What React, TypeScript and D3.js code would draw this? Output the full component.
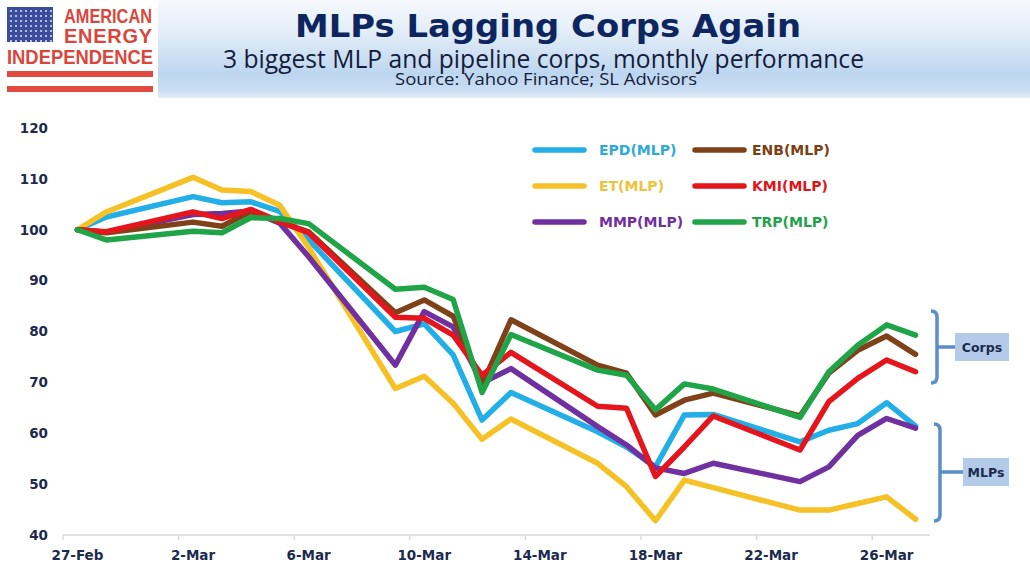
import * as d3 from 'd3';

// trading days, 27-Feb to 27-Mar 2020
const dates = [
  '2020-02-27', '2020-02-28', '2020-03-02', '2020-03-03', '2020-03-04', '2020-03-05',
  '2020-03-06', '2020-03-09', '2020-03-10', '2020-03-11', '2020-03-12', '2020-03-13',
  '2020-03-16', '2020-03-17', '2020-03-18', '2020-03-19', '2020-03-20', '2020-03-23',
  '2020-03-24', '2020-03-25', '2020-03-26', '2020-03-27',
];

const epd = [100, 102.5, 106.5, 105.3, 105.5, 103.6, 98, 80, 81.5, 75.4, 62.6, 68, 60.3, 57.3, 53.4, 63.6, 63.7, 58.3, 60.6, 61.9, 66, 61.4];
const et = [100, 103.5, 110.3, 107.8, 107.5, 104.8, 96.5, 68.8, 71.2, 65.9, 58.8, 62.8, 54.1, 49.5, 42.8, 50.8, 49.3, 44.9, 44.9, 46.2, 47.5, 43.1];
const mmp = [100, 99.5, 103, 103.2, 103.7, 101.3, 94.7, 73.4, 83.9, 80.9, 69.9, 72.7, 61.3, 57.7, 53.2, 52.1, 54.1, 50.5, 53.4, 59.6, 62.9, 61];
const enb = [100, 99.4, 101.5, 100.7, 103.6, 101.5, 99.6, 83.7, 86.2, 83, 69.5, 82.3, 73.4, 71.8, 63.6, 66.5, 67.9, 63.4, 71.8, 76.3, 79.1, 75.5];
const kmi = [100, 99.6, 103.5, 102.2, 104, 101.6, 99.4, 82.8, 82.6, 79.3, 71.4, 75.9, 65.3, 64.9, 51.5, 57.3, 63.4, 56.7, 66.2, 70.8, 74.4, 72.1];
const trp = [100, 98, 99.7, 99.4, 102.4, 102.2, 101.2, 88.3, 88.7, 86.3, 68, 79.4, 72.4, 71.4, 64.6, 69.7, 68.7, 63.1, 72.1, 77.3, 81.3, 79.3];

const seriesNames = ['EPD(MLP)', 'ET(MLP)', 'MMP(MLP)', 'ENB(MLP)', 'KMI(MLP)', 'TRP(MLP)'];
const seriesValues = [epd, et, mmp, enb, kmi, trp];
const lineColors = ['#22aee6', '#f5c125', '#7030a0', '#7f4218', '#e4151c', '#20a448'];
const textColors = ['#2ea9dd', '#f0c23a', '#7030a0', '#7b4014', '#e0141b', '#22a24a'];

const tickDays = ['2020-02-27', '2020-03-02', '2020-03-06', '2020-03-10', '2020-03-14', '2020-03-18', '2020-03-22', '2020-03-26'];
const yTicks = [40, 50, 60, 70, 80, 90, 100, 110, 120];

const parse = d3.utcParse('%Y-%m-%d');
const fmt = d3.utcFormat('%-d-%b');
const mid = (s: string) => d3.utcHour.offset(parse(s)!, 12);

const navy = '#1c2a4d';

export default function App() {
  const x = d3.scaleUtc().domain([parse('2020-02-27')!, parse('2020-03-28')!]).range([63, 930]);
  const y = d3.scaleLinear().domain([40, 120]).range([535, 128]);

  const line = d3
    .line<number>()
    .x((_, i) => x(mid(dates[i])))
    .y((d) => y(d));

  // flag dots
  const dots: [number, number][] = [];
  d3.range(7).forEach((r) => d3.range(9).forEach((c) => dots.push([11 + c * 5, 11 + r * 5])));

  return (
    <svg
      width={1030}
      height={579}
      style={{ position: 'absolute', left: 0, top: 0 }}
      fontFamily="'DejaVu Sans', Verdana, sans-serif"
    >
      <defs>
        <linearGradient id="banner" x1="0" y1="0" x2="0" y2="1">
          <stop offset="0" stopColor="#f6f9fd" />
          <stop offset="0.35" stopColor="#e1ecf7" />
          <stop offset="0.75" stopColor="#bdd6ef" />
          <stop offset="0.92" stopColor="#c9ddf2" />
          <stop offset="1" stopColor="#e4eef8" />
        </linearGradient>
      </defs>
      <rect width={1030} height={579} fill="#fff" />
      <rect width={1030} height={98} fill="url(#banner)" />

      {/* logo */}
      <rect width={158} height={98} fill="#fff" />
      <rect x={7} y={7} width={46} height={35} fill="#3b4c9c" />
      {dots.map(([cx, cy], i) => (
        <circle key={i} cx={cx} cy={cy} r={1} fill="#dfe3f3" />
      ))}
      <text x={64} y={23} fontFamily="'Liberation Sans', Arial, sans-serif" fontWeight="bold" fontSize={20} fill="#d9463c" textLength={88} lengthAdjust="spacingAndGlyphs">
        AMERICAN
      </text>
      <text x={64} y={43} fontFamily="'Liberation Sans', Arial, sans-serif" fontWeight="bold" fontSize={20} fill="#d9463c" textLength={88} lengthAdjust="spacing">
        ENERGY
      </text>
      <text x={7} y={64} fontFamily="'Liberation Sans', Arial, sans-serif" fontWeight="bold" fontSize={20} fill="#d9463c" textLength={146} lengthAdjust="spacingAndGlyphs">
        INDEPENDENCE
      </text>
      <rect x={7} y={71} width={146} height={6} fill="#e04a40" />
      <rect x={7} y={86} width={146} height={6} fill="#e04a40" />

      {/* titles */}
      <text x={295} y={37} fontWeight="bold" fontSize={32} fill="#0d2660" textLength={506} lengthAdjust="spacingAndGlyphs">
        MLPs Lagging Corps Again
      </text>
      <text x={223} y={68} fontFamily="'Open Sans', sans-serif" fontSize={25} fill="#141c3c" textLength={641} lengthAdjust="spacingAndGlyphs">
        3 biggest MLP and pipeline corps, monthly performance
      </text>
      <text x={395} y={85} fontFamily="'Open Sans', sans-serif" fontSize={16.5} fill="#141c3c" textLength={302} lengthAdjust="spacingAndGlyphs">
        Source: Yahoo Finance; SL Advisors
      </text>

      {/* y axis labels */}
      {yTicks.map((t) => (
        <text key={t} x={48} y={y(t)} dy="0.36em" textAnchor="end" fontWeight="bold" fontSize={13.5} fill={navy}>
          {t}
        </text>
      ))}

      {/* x axis */}
      <line x1={x.range()[0]} x2={x.range()[1]} y1={535} y2={535} stroke="#d9d9d9" strokeWidth={1.5} />
      {tickDays.map((t) => (
        <g key={t}>
          <line x1={x(parse(t)!)} x2={x(parse(t)!)} y1={535} y2={540} stroke="#d9d9d9" strokeWidth={1.5} />
          <text x={x(mid(t))} y={560} textAnchor="middle" fontWeight="bold" fontSize={13.5} fill={navy}>
            {fmt(parse(t)!)}
          </text>
        </g>
      ))}

      {/* series */}
      {seriesValues.map((vals, i) => (
        <path
          key={seriesNames[i]}
          d={line(vals)!}
          fill="none"
          stroke={lineColors[i]}
          strokeWidth={5.5}
          strokeLinejoin="round"
          strokeLinecap="round"
        />
      ))}

      {/* legend */}
      {seriesNames.map((name, i) => {
        const col = Math.floor(i / 3);
        const row = i % 3;
        const lx = col === 0 ? 535 : 695;
        const tx = col === 0 ? 599 : 752;
        const ly = 150 + row * 36;
        return (
          <g key={name}>
            <line x1={lx} x2={lx + 49} y1={ly} y2={ly} stroke={lineColors[i]} strokeWidth={5.5} strokeLinecap="round" />
            <text x={tx} y={ly} dy="0.36em" fontWeight="bold" fontSize={14} fill={textColors[i]}>
              {name}
            </text>
          </g>
        );
      })}

      {/* brackets */}
      <path d="M931,311 Q937,311 937,317 L937,377 Q937,383 931,383 M937,347 L955,347" fill="none" stroke="#5b8fc9" strokeWidth={3.5} />
      <rect x={955} y={333} width={54} height={28} fill="#b3cbe8" />
      <text x={982} y={347} dy="0.36em" textAnchor="middle" fontWeight="bold" fontSize={12.5} fill={navy}>
        Corps
      </text>
      <path d="M934,424 Q940,424 940,430 L940,515 Q940,521 934,521 M940,472 L963,472" fill="none" stroke="#5b8fc9" strokeWidth={3.5} />
      <rect x={963} y={458} width={46} height={28} fill="#b3cbe8" />
      <text x={986} y={472} dy="0.36em" textAnchor="middle" fontWeight="bold" fontSize={12.5} fill={navy}>
        MLPs
      </text>
    </svg>
  );
}
